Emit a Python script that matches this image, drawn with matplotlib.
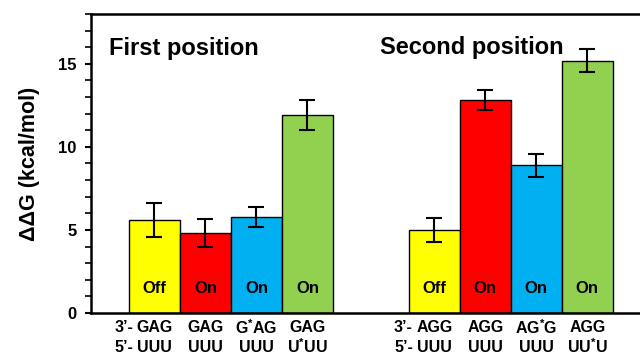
import matplotlib
matplotlib.use("Agg")
import matplotlib.pyplot as plt
from matplotlib.ticker import MultipleLocator

plt.rcParams['font.family'] = ['Liberation Sans', 'DejaVu Sans']
plt.rcParams['mathtext.default'] = 'regular'

groups = ["First position", "Second position"]
colors = ["#FFFF00", "#FF0000", "#00B0F0", "#92D050"]
states = ["Off", "On", "On", "On"]
first_vals = [5.6, 4.8, 5.8, 11.9]
first_errs = [1.05, 0.85, 0.6, 0.9]
second_vals = [5.0, 12.8, 8.9, 15.2]
second_errs = [0.7, 0.6, 0.7, 0.7]
first_top = ["GAG", "GAG", "G$^{*}$AG", "GAG"]
first_bot = ["UUU", "UUU", "UUU", "U$^{*}$UU"]
second_top = ["AGG", "AGG", "AG$^{*}$G", "AGG"]
second_bot = ["UUU", "UUU", "UUU", "UU$^{*}$U"]

fig = plt.figure(figsize=(6.4, 3.56), dpi=100)
ax = fig.add_axes([0.1422, 0.1208, 0.8578, 0.8399])

first_x = [1.245, 2.245, 3.245, 4.245]
second_x = [6.735, 7.735, 8.735, 9.735]

lab_fs = 11.5
for xs, vals, errs, tops, bots in [(first_x, first_vals, first_errs, first_top, first_bot),
                                    (second_x, second_vals, second_errs, second_top, second_bot)]:
    ax.bar(xs, vals, width=1.0, color=colors, edgecolor='black', linewidth=1.0, zorder=2)
    ax.errorbar(xs, vals, yerr=errs, fmt='none', ecolor='black', elinewidth=1.5,
                capsize=5.5, capthick=1.5, zorder=3)
    for x, s in zip(xs, states):
        ax.text(x, 1.45, s, ha='center', va='center', fontsize=12, fontweight='bold', zorder=4)
    for i, (x, t, b) in enumerate(zip(xs, tops, bots)):
        ax.text(x, -0.9, t, ha='center', va='center', fontsize=lab_fs, fontweight='bold', clip_on=False)
        ax.text(x, -2.05, b, ha='center', va='center', fontsize=lab_fs, fontweight='bold', clip_on=False)
    ax.text(xs[0] - 0.42, -0.9, "3\u2019-", ha='right', va='center', fontsize=lab_fs, fontweight='bold', clip_on=False)
    ax.text(xs[0] - 0.42, -2.05, "5\u2019-", ha='right', va='center', fontsize=lab_fs, fontweight='bold', clip_on=False)

ax.text(0.35, 15.95, groups[0], ha='left', va='center', fontsize=17, fontweight='bold')
ax.text(5.66, 16.0, groups[1], ha='left', va='center', fontsize=17, fontweight='bold')

ax.set_xlim(0, 10.77)
ax.set_ylim(0, 18)
ax.yaxis.set_major_locator(MultipleLocator(5))
ax.yaxis.set_minor_locator(MultipleLocator(1))
ax.set_xticks([])
ax.tick_params(axis='y', which='major', direction='out', length=4.5, width=1.5, labelsize=12, pad=6)
ax.tick_params(axis='y', which='minor', direction='out', length=4.5, width=1.2)
for lab in ax.get_yticklabels():
    lab.set_fontweight('bold')
for side in ['left', 'bottom', 'top']:
    ax.spines[side].set_linewidth(1.8)
ax.spines['right'].set_visible(False)
ax.set_ylabel("\u0394\u0394G (kcal/mol)", fontsize=15.5, fontweight='bold', labelpad=13)

fig.savefig("out.png", dpi=100)
